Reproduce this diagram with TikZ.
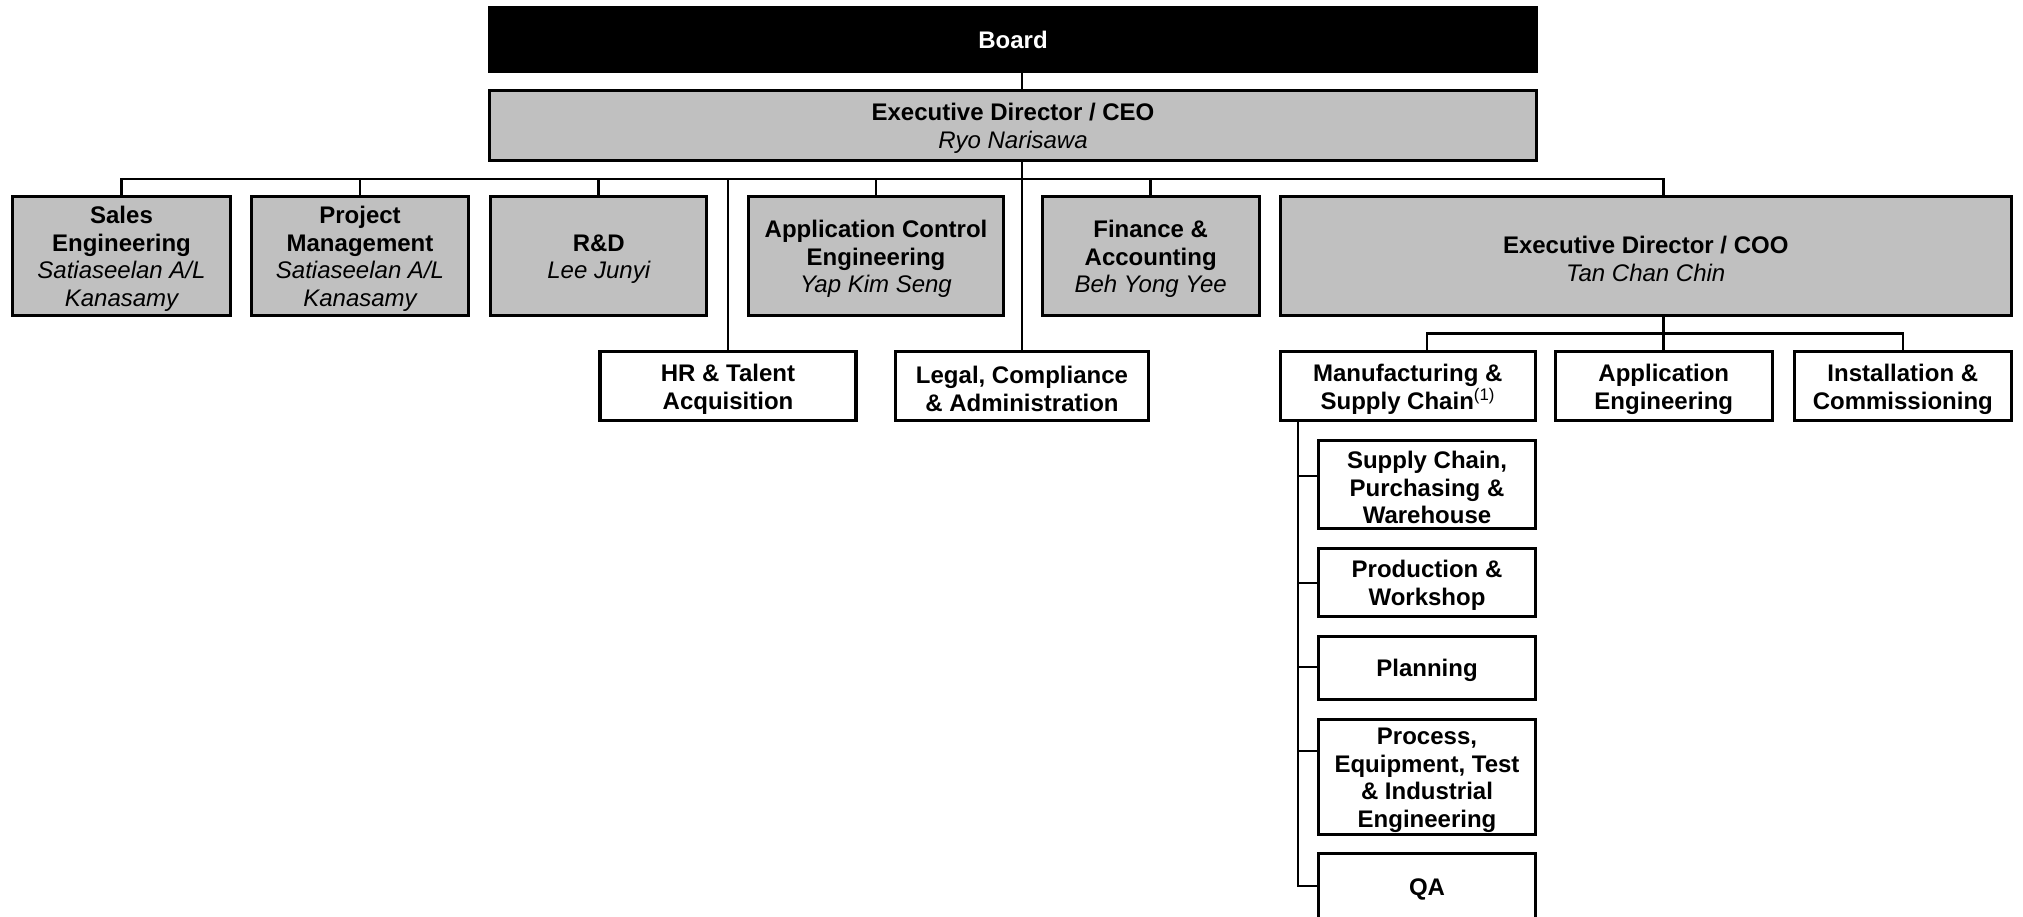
\documentclass[tikz,border=0pt]{standalone}
\usepackage{fontspec}
\setmainfont{Liberation Sans}
\newcommand\who[1]{{\mdseries\itshape #1}}
% taller first line, sets the text block a little lower in its box
\newcommand\hd{\rule{0pt}{23pt}}
\definecolor{boxgray}{RGB}{192,192,192}
\tikzset{
  unit/.style={draw=black, line width=3.2pt, inner sep=0pt, align=center,
    font=\fontsize{24}{27.7}\selectfont\bfseries},
  gbox/.style={unit, fill=boxgray},
  wbox/.style={unit, fill=white},
  topbox/.style={unit, fill=black, text=white},
  conn/.style={draw=black, line width=2.6pt}
}
\begin{document}
\begin{tikzpicture}[x=1pt,y=-1pt]
\path[use as bounding box, clip] (0,0) rectangle (2023,917);
\fill[white] (0,0) rectangle (2023,917);

% top of the chart
\node[topbox, minimum width=1047pt, minimum height=64pt] (board) at (1013,39.75) {Board};
\node[gbox, minimum width=1047pt, minimum height=70pt] (ceo) at (1013,125.5)
  {\hd Executive Director / CEO\\\who{Ryo Narisawa}};

% departments reporting to the CEO
\node[gbox, minimum width=218pt, minimum height=119pt] (sales) at (121.5,256)
  {\hd Sales\\Engineering\\\who{Satiaseelan A/L}\\\who{Kanasamy}};
\node[gbox, minimum width=217pt, minimum height=119pt] (proj) at (360,256)
  {\hd Project\\Management\\\who{Satiaseelan A/L}\\\who{Kanasamy}};
\node[gbox, minimum width=216pt, minimum height=119pt] (rd) at (598.75,256)
  {\hd R\&D\\\who{Lee Junyi}};
\node[gbox, minimum width=255pt, minimum height=119pt] (appctrl) at (876,256)
  {\hd Application Control\\Engineering\\\who{Yap Kim Seng}};
\node[gbox, minimum width=217pt, minimum height=119pt] (fin) at (1150.7,256)
  {\hd Finance \&\\Accounting\\\who{Beh Yong Yee}};
\node[gbox, minimum width=731pt, minimum height=119pt] (coo) at (1645.75,256)
  {\hd Executive Director / COO\\\who{Tan Chan Chin}};

% third row
\node[wbox, minimum width=256pt, minimum height=69pt] (hr) at (728,386.35)
  {\hd HR \& Talent\\Acquisition};
\node[wbox, minimum width=253pt, minimum height=69pt] (legal) at (1022,386.35)
  {\hd Legal, Compliance\\\& Administration};
\node[wbox, minimum width=255pt, minimum height=69pt] (mfg) at (1407.75,386.35)
  {\hd Manufacturing \&\\Supply Chain\textsuperscript{\mdseries(1)}};
\node[wbox, minimum width=217pt, minimum height=69pt] (appeng) at (1663.75,386.35)
  {\hd Application\\Engineering};
\node[wbox, minimum width=217pt, minimum height=69pt] (inst) at (1902.8,386.35)
  {\hd Installation \&\\Commissioning};

% manufacturing sub-units
\node[wbox, minimum width=217pt, minimum height=88pt] (sc1) at (1427,484.8)
  {\hd Supply Chain,\\Purchasing \&\\Warehouse};
\node[wbox, minimum width=217pt, minimum height=68pt] (prod) at (1427,582.75)
  {\hd Production \&\\Workshop};
\node[wbox, minimum width=217pt, minimum height=63pt] (plan) at (1427,667.9)
  {\hd Planning};
\node[wbox, minimum width=217pt, minimum height=115pt] (proc) at (1427,777)
  {\hd Process,\\Equipment, Test\\\& Industrial\\Engineering};
\node[wbox, minimum width=217pt, minimum height=65pt] (qa) at (1427,886)
  {\hd QA};

% reporting lines
\coordinate (bus) at (0,179);
\coordinate (sbus) at (0,333.3);
\coordinate (t1) at (1298,476);
\coordinate (t2) at (1298,583);
\coordinate (t3) at (1298,667);
\coordinate (t4) at (1298,751);
\coordinate (t5) at (1298,886);

\draw[conn] (board.south -| legal.north) -- (ceo.north -| legal.north);
\draw[conn] (ceo.south -| legal.north) -- (legal.north);
\draw[conn] (sales.north) |- (appeng.north |- bus) -- (coo.north -| appeng.north);
\draw[conn] (proj.north) -- (proj.north |- bus);
\draw[conn] (rd.north) -- (rd.north |- bus);
\draw[conn] (appctrl.north) -- (appctrl.north |- bus);
\draw[conn] (fin.north) -- (fin.north |- bus);
\draw[conn] (hr.north |- bus) -- (hr.north);

\draw[conn] (coo.south -| appeng.north) -- (appeng.north);
\draw[conn] (mfg.north -| sc1.north) |- (inst.north |- sbus) -- (inst.north);

\draw[conn] (mfg.south -| t1) -- (t5) -- (t5 -| qa.west);
\draw[conn] (t1) -- (t1 -| sc1.west);
\draw[conn] (t2) -- (t2 -| prod.west);
\draw[conn] (t3) -- (t3 -| plan.west);
\draw[conn] (t4) -- (t4 -| proc.west);
\end{tikzpicture}
\end{document}
